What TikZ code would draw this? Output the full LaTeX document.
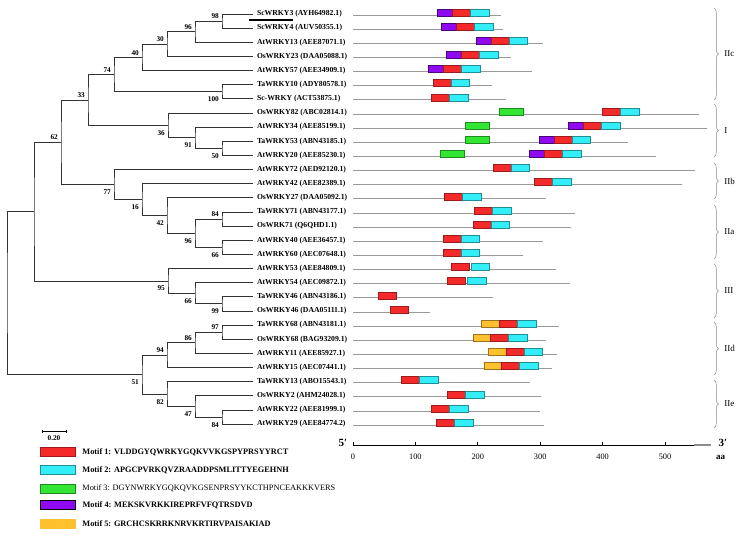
\documentclass[tikz,border=0pt]{standalone}
\usepackage{fontspec}
\setmainfont{Liberation Serif}
\usetikzlibrary{arrows.meta, positioning, decorations.pathreplacing}

\definecolor{motifred}{HTML}{F42A2A}
\definecolor{motifcyan}{HTML}{33EEF8}
\definecolor{motifgreen}{HTML}{33E633}
\definecolor{motifpurple}{HTML}{8F0AF0}
\definecolor{motiforange}{HTML}{FFC12E}

\begin{document}
\begin{tikzpicture}[
    x=1pt, y=-1pt,
    leaf/.style={anchor=west, inner sep=0pt, outer xsep=4pt,
                 font=\fontsize{7.7}{9}\selectfont\bfseries},
    branch/.style={draw=black!80, line width=0.8pt},
    bs/.style={inner sep=1pt, font=\fontsize{7.3}{8}\selectfont\bfseries},
    bsup/.style={bs, anchor=south east, xshift=-2pt, yshift=1pt},
    bsdown/.style={bs, anchor=north east, xshift=-2pt, yshift=-4pt},
    gene/.style={draw=black!40, line width=0.8pt},
    motif/.style={line width=0.5pt},
    m1/.style={motif, fill=motifred, draw=motifred!65!black},
    m2/.style={motif, fill=motifcyan, draw=motifcyan!60!black},
    m3/.style={motif, fill=motifgreen, draw=motifgreen!60!black},
    m4/.style={motif, fill=motifpurple, draw=motifpurple!50!black},
    m5/.style={motif, fill=motiforange, draw=motiforange!60!black},
    axisline/.style={draw=black, line width=0.9pt},
    ticklabel/.style={font=\fontsize{8.3}{9}\selectfont, inner sep=0pt},
    endlabel/.style={font=\fontsize{11}{12}\selectfont\bfseries, inner sep=0pt},
    grpbrace/.style={draw=black!45, line width=0.5pt, decorate,
                     decoration={brace, amplitude=4.5pt}},
    grplabel/.style={font=\fontsize{9}{10}\selectfont, anchor=west, xshift=10pt,
                     inner sep=0pt},
    keybox/.style={rectangle, minimum width=35pt, minimum height=9pt,
                   inner sep=0pt, line width=0.5pt},
    keytext/.style={anchor=west, inner sep=0pt,
                    font=\fontsize{8.3}{9}\selectfont\bfseries}
]
    \useasboundingbox (0,0) rectangle (742,536);

    % leaves
    \node[leaf] (scw3) at (253,14.0) {ScWRKY3 (AYH64982.1)};
    \node[leaf] (scw4) at (253,28.1) {ScWRKY4 (AUV50355.1)};
    \node[leaf] (at13) at (253,42.3) {AtWRKY13 (AEE87071.1)};
    \node[leaf] (os23) at (253,56.4) {OsWRKY23 (DAA05088.1)};
    \node[leaf] (at57) at (253,70.6) {AtWRKY57 (AEE34909.1)};
    \node[leaf] (ta10) at (253,84.7) {TaWRKY10 (ADY80578.1)};
    \node[leaf] (scw) at (253,98.8) {Sc-WRKY (ACT53875.1)};
    \node[leaf] (os82) at (253,113.0) {OsWRKY82 (ABC02814.1)};
    \node[leaf] (at34) at (253,127.1) {AtWRKY34 (AEE85199.1)};
    \node[leaf] (ta53) at (253,141.3) {TaWRKY53 (ABN43185.1)};
    \node[leaf] (at20) at (253,155.4) {AtWRKY20 (AEE85230.1)};
    \node[leaf] (at72) at (253,169.5) {AtWRKY72 (AED92120.1)};
    \node[leaf] (at42) at (253,183.7) {AtWRKY42 (AEE82389.1)};
    \node[leaf] (os27) at (253,197.8) {OsWRKY27 (DAA05092.1)};
    \node[leaf] (ta71) at (253,212.0) {TaWRKY71 (ABN43177.1)};
    \node[leaf] (os71) at (253,226.1) {OsWRK71 (Q6QHD1.1)};
    \node[leaf] (at40) at (253,240.2) {AtWRKY40 (AEE36457.1)};
    \node[leaf] (at60) at (253,254.4) {AtWRKY60 (AEC07648.1)};
    \node[leaf] (at53) at (253,268.5) {AtWRKY53 (AEE84809.1)};
    \node[leaf] (at54) at (253,282.7) {AtWRKY54 (AEC09872.1)};
    \node[leaf] (ta46) at (253,296.8) {TaWRKY46 (ABN43186.1)};
    \node[leaf] (os46) at (253,310.9) {OsWRKY46 (DAA05111.1)};
    \node[leaf] (ta68) at (253,325.1) {TaWRKY68 (ABN43181.1)};
    \node[leaf] (os68) at (253,339.2) {OsWRKY68 (BAG93209.1)};
    \node[leaf] (at11) at (253,353.4) {AtWRKY11 (AEE85927.1)};
    \node[leaf] (at15) at (253,367.5) {AtWRKY15 (AEC07441.1)};
    \node[leaf] (ta13) at (253,381.6) {TaWRKY13 (ABO15543.1)};
    \node[leaf] (os2) at (253,395.8) {OsWRKY2 (AHM24028.1)};
    \node[leaf] (at22) at (253,409.9) {AtWRKY22 (AEE81999.1)};
    \node[leaf] (at29) at (253,424.1) {AtWRKY29 (AEE84774.2)};
    \coordinate (mark0) at (249,19.8);
    \coordinate (mark1) at (293,19.8);
    \draw[draw=black, line width=1.5pt] (mark0) -- (mark1);

    % internal nodes
    \coordinate (n98) at (222,21.05);
    \coordinate (n96) at (195,31.7);
    \coordinate (n30) at (167,44.05);
    \coordinate (n40) at (142,57.3);
    \coordinate (n100) at (222,91.75);
    \coordinate (n74) at (114,74.5);
    \coordinate (n50) at (222,148.35);
    \coordinate (n91) at (195,137.7);
    \coordinate (n36) at (168,125.35);
    \coordinate (n33) at (88,99.9);
    \coordinate (n84) at (222,219.05);
    \coordinate (n66) at (222,247.3);
    \coordinate (n96b) at (195,233.2);
    \coordinate (n42) at (167,215.5);
    \coordinate (n16) at (142,199.6);
    \coordinate (n77) at (114,184.55);
    \coordinate (n62) at (61,142.2);
    \coordinate (n99) at (222,303.85);
    \coordinate (n66b) at (195,293.3);
    \coordinate (n95) at (168,280.9);
    \coordinate (nA) at (34,211.55);
    \coordinate (n97) at (222,332.15);
    \coordinate (n86) at (195,342.8);
    \coordinate (n94) at (167,355.15);
    \coordinate (n84b) at (222,417.0);
    \coordinate (n47) at (195,406.4);
    \coordinate (n82) at (167,394.0);
    \coordinate (n51) at (142,374.6);
    \coordinate (root) at (7,293.1);

    % branches
    \draw[branch] (scw3) -| (n98) |- (scw4);
    \draw[branch] (n98) -| (n96) |- (at13);
    \draw[branch] (n96) -| (n30) |- (os23);
    \draw[branch] (n30) -| (n40) |- (at57);
    \draw[branch] (ta10) -| (n100) |- (scw);
    \draw[branch] (n40) -| (n74) |- (n100);
    \draw[branch] (ta53) -| (n50) |- (at20);
    \draw[branch] (at34) -| (n91) |- (n50);
    \draw[branch] (os82) -| (n36) |- (n91);
    \draw[branch] (n74) -| (n33) |- (n36);
    \draw[branch] (ta71) -| (n84) |- (os71);
    \draw[branch] (at40) -| (n66) |- (at60);
    \draw[branch] (n84) -| (n96b) |- (n66);
    \draw[branch] (os27) -| (n42) |- (n96b);
    \draw[branch] (at42) -| (n16) |- (n42);
    \draw[branch] (at72) -| (n77) |- (n16);
    \draw[branch] (n33) -| (n62) |- (n77);
    \draw[branch] (ta46) -| (n99) |- (os46);
    \draw[branch] (at54) -| (n66b) |- (n99);
    \draw[branch] (at53) -| (n95) |- (n66b);
    \draw[branch] (n62) -| (nA) |- (n95);
    \draw[branch] (ta68) -| (n97) |- (os68);
    \draw[branch] (n97) -| (n86) |- (at11);
    \draw[branch] (n86) -| (n94) |- (at15);
    \draw[branch] (at22) -| (n84b) |- (at29);
    \draw[branch] (os2) -| (n47) |- (n84b);
    \draw[branch] (ta13) -| (n82) |- (n47);
    \draw[branch] (n94) -| (n51) |- (n82);
    \draw[branch] (nA) -| (root) |- (n51);

    % bootstrap values
    \node[bsup] (b98) at (n98) {98};
    \node[bsup] (b96) at (n96) {96};
    \node[bsup] (b30) at (n30) {30};
    \node[bsup] (b40) at (n40) {40};
    \node[bsup] (b74) at (n74) {74};
    \node[bsdown] (b100) at (n100) {100};
    \node[bsup] (b33) at (n33) {33};
    \node[bsdown] (b36) at (n36) {36};
    \node[bsdown] (b91) at (n91) {91};
    \node[bsdown] (b50) at (n50) {50};
    \node[bsup] (b62) at (n62) {62};
    \node[bsdown] (b77) at (n77) {77};
    \node[bsdown] (b16) at (n16) {16};
    \node[bsdown] (b42) at (n42) {42};
    \node[bsup] (b84) at (n84) {84};
    \node[bsdown] (b96b) at (n96b) {96};
    \node[bsdown] (b66) at (n66) {66};
    \node[bsdown] (b95) at (n95) {95};
    \node[bsdown] (b66b) at (n66b) {66};
    \node[bsdown] (b99) at (n99) {99};
    \node[bsup] (b97) at (n97) {97};
    \node[bsup] (b86) at (n86) {86};
    \node[bsup] (b94) at (n94) {94};
    \node[bsdown] (b51) at (n51) {51};
    \node[bsdown] (b82) at (n82) {82};
    \node[bsdown] (b47) at (n47) {47};
    \node[bsdown] (b84b) at (n84b) {84};

    % scale bar
    \coordinate (sb0) at (41.5,431);
    \coordinate (sb1) at (66.5,431);
    \draw[line width=0.8pt, {Bar[width=3pt]}-{Bar[width=3pt]}] (sb0) -- (sb1)
        node[bs, midway, below=3pt] (sblabel) {0.20};

    % motifs, x in aa
    \begin{scope}[xshift=353pt, x=0.624pt]
        \draw[gene] (0,15.0) -- (237,15.0);
        \draw[m4] (135,9.0) rectangle ++(24,7); \draw[m1] (159,9.0) rectangle ++(29,7); \draw[m2] (188,9.0) rectangle ++(30,7);
        \draw[gene] (0,29.1) -- (240,29.1);
        \draw[m4] (141,23.1) rectangle ++(24,7); \draw[m1] (165,23.1) rectangle ++(29,7); \draw[m2] (194,23.1) rectangle ++(30,7);
        \draw[gene] (0,43.3) -- (304,43.3);
        \draw[m4] (197,37.3) rectangle ++(24,7); \draw[m1] (221,37.3) rectangle ++(29,7); \draw[m2] (250,37.3) rectangle ++(30,7);
        \draw[gene] (0,57.4) -- (254,57.4);
        \draw[m4] (150,51.4) rectangle ++(24,7); \draw[m1] (174,51.4) rectangle ++(29,7); \draw[m2] (203,51.4) rectangle ++(30,7);
        \draw[gene] (0,71.6) -- (287,71.6);
        \draw[m4] (121,65.6) rectangle ++(24,7); \draw[m1] (145,65.6) rectangle ++(29,7); \draw[m2] (174,65.6) rectangle ++(30,7);
        \draw[gene] (0,85.7) -- (222,85.7);
        \draw[m1] (128,79.7) rectangle ++(29,7); \draw[m2] (157,79.7) rectangle ++(30,7);
        \draw[gene] (0,99.8) -- (245,99.8);
        \draw[m1] (126,93.8) rectangle ++(29,7); \draw[m2] (155,93.8) rectangle ++(30,7);
        \draw[gene] (0,114.0) -- (555,114.0);
        \draw[m3] (234,108.0) rectangle ++(39,7); \draw[m1] (399,108.0) rectangle ++(29,7); \draw[m2] (428,108.0) rectangle ++(30,7);
        \draw[gene] (0,128.1) -- (568,128.1);
        \draw[m3] (180,122.1) rectangle ++(39,7); \draw[m4] (345,122.1) rectangle ++(24,7); \draw[m1] (369,122.1) rectangle ++(29,7); \draw[m2] (398,122.1) rectangle ++(30,7);
        \draw[gene] (0,142.3) -- (440,142.3);
        \draw[m3] (180,136.3) rectangle ++(39,7); \draw[m4] (298,136.3) rectangle ++(24,7); \draw[m1] (322,136.3) rectangle ++(29,7); \draw[m2] (351,136.3) rectangle ++(30,7);
        \draw[gene] (0,156.4) -- (485,156.4);
        \draw[m3] (140,150.4) rectangle ++(39,7); \draw[m4] (282,150.4) rectangle ++(24,7); \draw[m1] (306,150.4) rectangle ++(29,7); \draw[m2] (335,150.4) rectangle ++(30,7);
        \draw[gene] (0,170.5) -- (548,170.5);
        \draw[m1] (224,164.5) rectangle ++(29,7); \draw[m2] (253,164.5) rectangle ++(30,7);
        \draw[gene] (0,184.7) -- (528,184.7);
        \draw[m1] (290,178.7) rectangle ++(29,7); \draw[m2] (319,178.7) rectangle ++(30,7);
        \draw[gene] (0,198.8) -- (310,198.8);
        \draw[m1] (146,192.8) rectangle ++(29,7); \draw[m2] (175,192.8) rectangle ++(30,7);
        \draw[gene] (0,213.0) -- (355,213.0);
        \draw[m1] (194,207.0) rectangle ++(29,7); \draw[m2] (223,207.0) rectangle ++(30,7);
        \draw[gene] (0,227.1) -- (350,227.1);
        \draw[m1] (192,221.1) rectangle ++(29,7); \draw[m2] (221,221.1) rectangle ++(30,7);
        \draw[gene] (0,241.2) -- (304,241.2);
        \draw[m1] (144,235.2) rectangle ++(29,7); \draw[m2] (173,235.2) rectangle ++(30,7);
        \draw[gene] (0,255.4) -- (272,255.4);
        \draw[m1] (144,249.4) rectangle ++(29,7); \draw[m2] (173,249.4) rectangle ++(30,7);
        \draw[gene] (0,269.5) -- (326,269.5);
        \draw[m1] (157,263.5) rectangle ++(29,7); \draw[m2] (189,263.5) rectangle ++(30,7);
        \draw[gene] (0,283.7) -- (348,283.7);
        \draw[m1] (151,277.7) rectangle ++(29,7); \draw[m2] (183,277.7) rectangle ++(30,7);
        \draw[gene] (0,297.8) -- (224,297.8);
        \draw[m1] (40,291.8) rectangle ++(29,7);
        \draw[gene] (0,311.9) -- (124,311.9);
        \draw[m1] (59,305.9) rectangle ++(29,7);
        \draw[gene] (0,326.1) -- (330,326.1);
        \draw[m5] (206,320.1) rectangle ++(28,7); \draw[m1] (234,320.1) rectangle ++(29,7); \draw[m2] (263,320.1) rectangle ++(30,7);
        \draw[gene] (0,340.2) -- (310,340.2);
        \draw[m5] (192,334.2) rectangle ++(28,7); \draw[m1] (220,334.2) rectangle ++(29,7); \draw[m2] (249,334.2) rectangle ++(30,7);
        \draw[gene] (0,354.4) -- (327,354.4);
        \draw[m5] (217,348.4) rectangle ++(28,7); \draw[m1] (245,348.4) rectangle ++(29,7); \draw[m2] (274,348.4) rectangle ++(30,7);
        \draw[gene] (0,368.5) -- (319,368.5);
        \draw[m5] (210,362.5) rectangle ++(28,7); \draw[m1] (238,362.5) rectangle ++(29,7); \draw[m2] (267,362.5) rectangle ++(30,7);
        \draw[gene] (0,382.6) -- (283,382.6);
        \draw[m1] (77,376.6) rectangle ++(29,7); \draw[m2] (106,376.6) rectangle ++(30,7);
        \draw[gene] (0,396.8) -- (301,396.8);
        \draw[m1] (151,390.8) rectangle ++(29,7); \draw[m2] (180,390.8) rectangle ++(30,7);
        \draw[gene] (0,410.9) -- (300,410.9);
        \draw[m1] (126,404.9) rectangle ++(29,7); \draw[m2] (155,404.9) rectangle ++(30,7);
        \draw[gene] (0,425.1) -- (306,425.1);
        \draw[m1] (133,419.1) rectangle ++(29,7); \draw[m2] (162,419.1) rectangle ++(30,7);

        % length axis
        \draw[axisline] (0,445) -- (546,445);
        \draw[draw=black!45, line width=1.6pt] (546,445) -- (574,445);
        \foreach \t in {0,100,...,500} {
            \draw[axisline] (\t,445) -- (\t,442);
            \node[ticklabel] (tick\t) at (\t,457) {\t};
        }
    \end{scope}
    \node[endlabel] (five) at (343,443) {5′};
    \node[endlabel] (three) at (723,443) {3′};
    \node[keytext, font=\fontsize{9}{10}\selectfont\bfseries] (aa) at (716,457) {aa};

    % subgroups
    \draw[grpbrace] (714,8) -- (714,100) node[grplabel, midway] (gIIc) {IIc};
    \draw[grpbrace] (714,104) -- (714,157) node[grplabel, midway] (gI) {I};
    \draw[grpbrace] (714,163) -- (714,199) node[grplabel, midway] (gIIb) {IIb};
    \draw[grpbrace] (714,205) -- (714,259) node[grplabel, midway] (gIIa) {IIa};
    \draw[grpbrace] (714,264) -- (714,318) node[grplabel, midway] (gIII) {III};
    \draw[grpbrace] (714,322) -- (714,375) node[grplabel, midway] (gIId) {IId};
    \draw[grpbrace] (714,380) -- (714,428) node[grplabel, midway] (gIIe) {IIe};

    % legend
    \node[keybox, fill=motifred, draw=motifred!65!black] (key1) at (57.5,452) {};
    \node[keybox, fill=motifcyan, draw=motifcyan!60!black] (key2) at (57.5,470) {};
    \node[keybox, fill=motifgreen, draw=motifgreen!60!black] (key3) at (57.5,488.5) {};
    \node[keybox, fill=motifpurple, draw=black, line width=0.9pt] (key4) at (57.5,505) {};
    \node[keybox, fill=motiforange, draw=motiforange] (key5) at (57.5,523.5) {};
    \node[keytext, right=7pt of key1] (txt1) {Motif 1: VLDDGYQWRKYGQKVVKGSPYPRSYYRCT};
    \node[keytext, right=7pt of key2] (txt2) {Motif 2: APGCPVRKQVZRAADDPSMLITTYEGEHNH};
    \node[keytext, right=7pt of key3, font=\fontsize{8.3}{9}\selectfont] (txt3) {Motif 3: DGYNWRKYGQKQVKGSENPRSYYKCTHPNCEAKKKVERS};
    \node[keytext, right=7pt of key4] (txt4) {Motif 4: MEKSKVRKKIREPRFVFQTRSDVD};
    \node[keytext, right=7pt of key5] (txt5) {Motif 5: GRCHCSKRRKNRVKRTIRVPAISAKIAD};
\end{tikzpicture}
\end{document}
